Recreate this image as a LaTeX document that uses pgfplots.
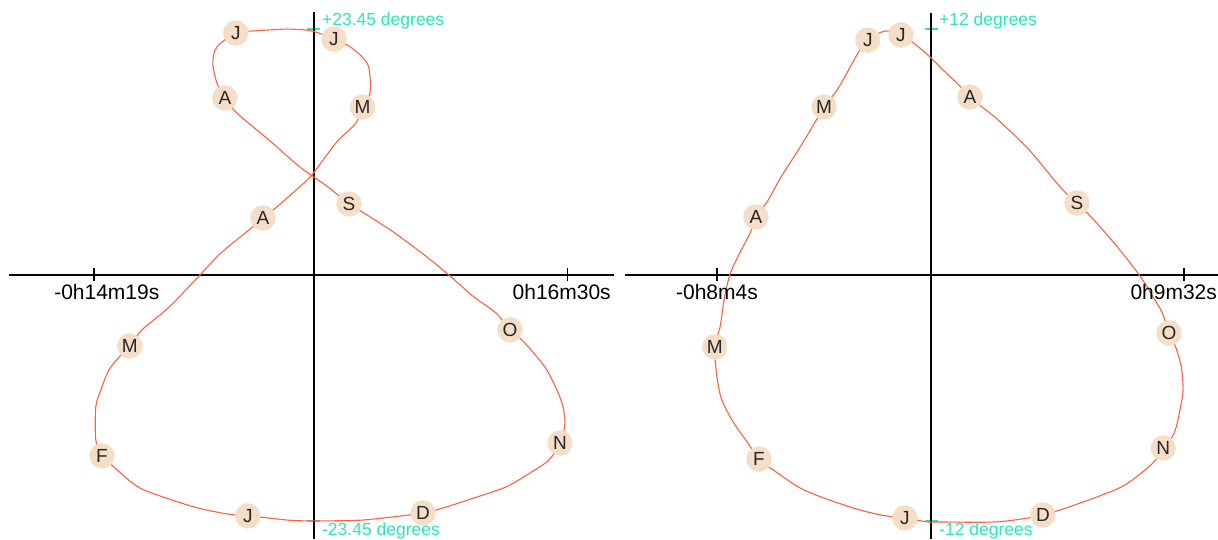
\documentclass[border=0pt]{standalone}
\usepackage{pgfplots}
\pgfplotsset{compat=1.18}
\usepackage{fontspec}
\setmainfont{Liberation Sans}

\definecolor{curve}{RGB}{255,96,64}
\definecolor{mk}{RGB}{245,222,200}
\definecolor{cy}{RGB}{40,232,185}

% analemma, Earth (seconds, degrees)
\pgfplotstableread{
x y
-258 -22.97
-340 -22.78
-453 -22.21
-578 -21.26
-687 -20.21
-777 -18.40
-828 -17.25
-852 -15.73
-852 -12.58
-832 -10.96
-801 -9.06
-754 -7.63
-719 -6.77
-672 -5.24
-578 -3.34
-500 -1.43
-445 0
-363 2.10
-254 4.29
-199 5.43
-145 6.48
-70 8.10
-8 9.53
86 12.58
164 14.49
190 16.01
219 17.35
211 20.02
148 21.64
78 22.50
-8 23.26
-90 23.44
-145 23.40
-238 23.26
-305 23.07
-379 21.73
-395 20.21
-379 18.30
-348 16.87
-301 15.44
-176 12.87
-55 10.30
55 8.39
137 6.77
195 5.91
316 4.00
441 1.72
527 0
625 -2.10
711 -3.62
766 -5.24
820 -6.39
902 -8.77
949 -10.96
973 -12.58
980 -14.30
961 -16.01
918 -17.64
844 -18.87
750 -20.21
625 -21.26
504 -22.21
426 -22.69
270 -23.17
164 -23.40
0 -23.44
-86 -23.40
-176 -23.17
-258 -22.97
}\earthcurve

\pgfplotstableread{
x y l
-258 -22.97 J
-828 -17.25 F
-719 -6.77 M
-199 5.43 A
190 16.01 M
78 22.50 J
-305 23.07 J
-348 16.87 A
137 6.77 S
766 -5.24 O
961 -16.01 N
426 -22.69 D
}\earthmonths

% second analemma (seconds, degrees)
\pgfplotstableread{
x y
-59 -11.85
-113 -11.71
-183 -11.32
-287 -10.49
-357 -9.51
-389 -8.98
-414 -8.20
-446 -7.22
-473 -6.10
-484 -4.98
-489 -3.51
-477 -2.54
-468 -1.22
-455 0
-437 0.88
-409 2.05
-396 2.83
-371 3.56
-339 4.78
-296 6.24
-262 7.46
-242 8.20
-217 8.88
-199 9.51
-165 10.83
-143 11.46
-104 11.90
-68 11.71
-34 11.22
0 10.59
27 10.00
63 9.27
88 8.68
115 8.20
152 7.56
222 6.10
292 4.29
330 3.51
362 2.83
414 1.56
471 0
502 -1.07
523 -1.85
538 -2.83
554 -3.56
566 -4.49
570 -5.61
563 -6.59
550 -7.71
525 -8.44
502 -9.17
439 -10.24
369 -10.88
292 -11.46
253 -11.71
222 -11.85
143 -12.05
18 -12.05
-7 -12.05
-59 -11.85
}\othercurve

\pgfplotstableread{
x y l
-59 -11.85 J
-389 -8.98 F
-489 -3.51 M
-396 2.83 A
-242 8.20 M
-143 11.46 J
-68 11.71 J
88 8.68 A
330 3.51 S
538 -2.83 O
525 -8.44 N
253 -11.71 D
}\othermonths

\pgfplotsset{
  anal/.style={
    scale only axis,
    axis lines=middle,
    axis line style={-, line width=1.3pt, black},
    clip=false,
    tick align=center,
    major tick length=13pt,
    xtick style={black, line width=1.3pt},
    ytick style={cy, line width=1.5pt},
    xticklabels={,,},
    yticklabels={,,},
  },
  curvestyle/.style={smooth, curve, line width=1.1pt},
  monthstyle/.style={
    color=mk,
    only marks, mark=*, mark size=12.5pt,
    mark options={fill=mk, draw=mk},
    point meta=explicit symbolic,
    nodes near coords,
    nodes near coords align=center,
    every node near coord/.append style={font=\fontsize{19}{19}\selectfont, text=black!85, inner sep=0pt},
  },
}
\tikzset{
  ticklab/.style={inner sep=0pt, yshift=-9pt, font=\fontsize{21}{21}\selectfont},
  deglab/.style={inner sep=0pt, xshift=8pt, text=cy, font=\fontsize{17.5}{17.5}\selectfont},
}

\begin{document}
\begin{tikzpicture}
\useasboundingbox (0,0) rectangle (1218pt,539pt);

\begin{axis}[anal,
  at={(9pt,0pt)}, anchor=south west,
  width=605pt, height=527pt,
  xmin=-1191, xmax=1172, ymin=-25.17, ymax=25.07,
  xtick={-859,990}, ytick={-23.45,23.45},
]
\addplot[curvestyle] table {\earthcurve};
\addplot[monthstyle] table[meta=l] {\earthmonths};
\node[ticklab, anchor=north] at (axis cs:-809,0) {-0h14m19s};
\node[ticklab, anchor=north east] at (axis cs:1160,0) {0h16m30s};
\node[deglab, anchor=base west, yshift=3pt] at (axis cs:0,23.45) {+23.45 degrees};
\node[deglab, anchor=north west, yshift=-2pt] at (axis cs:0,-23.45) {-23.45 degrees};
\end{axis}

\begin{axis}[anal,
  at={(625pt,0pt)}, anchor=south west,
  width=593pt, height=526pt,
  xmin=-692, xmax=649, ymin=-12.88, ymax=12.78,
  xtick={-484,572}, ytick={-12,12},
]
\addplot[curvestyle] table {\othercurve};
\addplot[monthstyle] table[meta=l] {\othermonths};
\node[ticklab, anchor=north] at (axis cs:-484,0) {-0h8m4s};
\node[ticklab, anchor=north east] at (axis cs:647,0) {0h9m32s};
\node[deglab, anchor=base west, yshift=3pt] at (axis cs:0,12) {+12 degrees};
\node[deglab, anchor=north west, yshift=-2pt] at (axis cs:0,-12) {-12 degrees};
\end{axis}
\end{tikzpicture}
\end{document}
